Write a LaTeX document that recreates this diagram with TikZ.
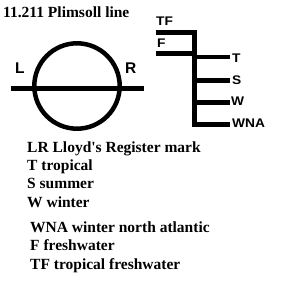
\documentclass[tikz,border=0pt]{standalone}
\usepackage{fontspec}
\setmainfont{Liberation Serif}
\newfontfamily\labfont{Liberation Sans}
\begin{document}
\begin{tikzpicture}[x=1pt,y=-1pt,
  thick line/.style={line width=4.5pt,line join=miter},
  sertext/.style={anchor=base west,inner sep=0pt,font=\fontsize{15.5}{18}\selectfont\bfseries},
  biglab/.style={anchor=base west,inner sep=0pt,font=\labfont\fontsize{15.5}{18}\selectfont\bfseries},
  smalllab/.style={anchor=base west,inner sep=0pt,font=\labfont\fontsize{12.5}{15}\selectfont\bfseries,xscale=1.1}]
\useasboundingbox (0,0) rectangle (293,284);
% title
\node[sertext] (title) at (3,17) {11.211 Plimsoll line};
% Lloyd's register mark
\coordinate (cc) at (77,86);
\draw[thick line] (cc) circle[radius=42.7];
\coordinate (hl) at (11,88.5);
\coordinate (hr) at (144,88.5);
\draw[thick line] (hl) -- (hr);
\node[biglab] (L) at (15,73) {L};
\node[biglab] (R) at (125,73) {R};
% load line mark
\coordinate (tfa) at (156,32.5);
\coordinate (tfb) at (194.5,32.5);
\coordinate (wnab) at (194.5,124.5);
\coordinate (wnae) at (230,124.5);
\draw[thick line] (tfa) -- (tfb) -- (wnab) -- (wnae);
\coordinate (fa) at (156,53.5);
\coordinate (fb) at (194.5,53.5);
\draw[thick line] (fa) -- (fb);
\coordinate (ta) at (194.5,57);
\coordinate (tb) at (230,57);
\draw[thick line] (ta) -- (tb);
\coordinate (sa) at (194.5,80.5);
\coordinate (sb) at (230,80.5);
\draw[thick line] (sa) -- (sb);
\coordinate (wa) at (194.5,102.5);
\coordinate (wb) at (230,102.5);
\draw[thick line] (wa) -- (wb);
\node[smalllab] (TF) at (156,25) {TF};
\node[smalllab] (F) at (157,47) {F};
\node[smalllab] (T) at (232,62) {T};
\node[smalllab] (S) at (232,84) {S};
\node[smalllab] (W) at (231,105) {W};
\node[smalllab] (WNA) at (232,127) {WNA};
% legend
\node[sertext] (k1) at (27,152) {LR Lloyd\textquotesingle s Register mark};
\node[sertext] (k2) at (27,170) {T tropical};
\node[sertext] (k3) at (27,188) {S summer};
\node[sertext] (k4) at (27,207.5) {W winter};
\node[sertext] (k5) at (30,232) {WNA winter north atlantic};
\node[sertext] (k6) at (30,250.5) {F freshwater};
\node[sertext] (k7) at (30,269.5) {TF tropical freshwater};
\end{tikzpicture}
\end{document}
